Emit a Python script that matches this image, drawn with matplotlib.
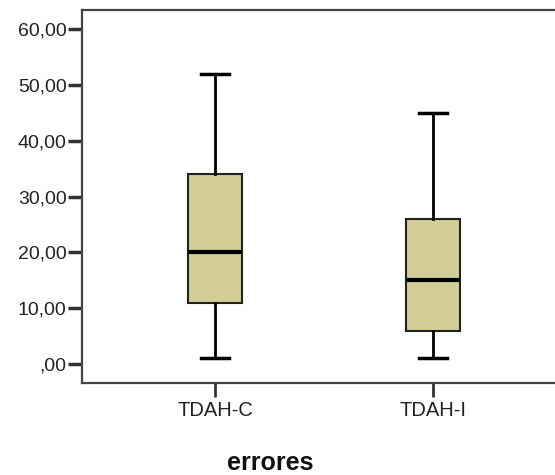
import matplotlib
matplotlib.use('Agg')
import matplotlib.pyplot as plt
from matplotlib.ticker import FuncFormatter

# box statistics
groups = ['TDAH-C', 'TDAH-I']
whisker_low = [1, 1]
q1 = [11, 6]
medians = [20, 15]
q3 = [34, 26]
whisker_high = [52, 45]

plt.rcParams['font.family'] = ['Liberation Sans', 'DejaVu Sans']

fig = plt.figure(figsize=(5.55, 4.75), dpi=100)
ax = fig.add_axes([82 / 555, 92 / 475, 1 - 82 / 555, 373 / 475])

stats = []
for i, name in enumerate(groups):
    stats.append({'label': name, 'whislo': whisker_low[i], 'q1': q1[i],
                  'med': medians[i], 'q3': q3[i], 'whishi': whisker_high[i],
                  'fliers': []})

ax.bxp(stats, positions=[1, 2], widths=0.25, capwidths=0.125,
       patch_artist=True, showfliers=False,
       boxprops=dict(facecolor='#D3CE97', edgecolor='#222222', linewidth=1.5),
       medianprops=dict(color='black', linewidth=3, solid_capstyle='butt'),
       whiskerprops=dict(color='black', linewidth=2),
       capprops=dict(color='black', linewidth=2.5))

ax.set_xlim(0.39, 2.56)
ax.set_ylim(-3.4, 63.4)
ax.set_yticks(range(0, 61, 10))
ax.yaxis.set_major_formatter(FuncFormatter(
    lambda v, p: ',00' if v == 0 else f'{int(v)},00'))
ax.set_xticks([1, 2])
ax.set_xticklabels(groups)

ax.spines['right'].set_visible(False)
for s in ['left', 'top', 'bottom']:
    ax.spines[s].set_color('#444444')
    ax.spines[s].set_linewidth(1.6)
ax.tick_params(axis='y', length=10, width=2.5, color='#333333',
               labelsize=14, labelcolor='#222222', pad=1)
ax.tick_params(axis='x', length=10, width=2, color='#333333',
               labelsize=14.5, labelcolor='#222222', pad=3)

# axis title sits left of the axes centre in the original
fig.text(270 / 555, 1 - 463 / 475, 'errores', fontsize=18,
         fontweight='bold', ha='center', va='center', color='#111111')

fig.savefig('out.png', dpi=100)
